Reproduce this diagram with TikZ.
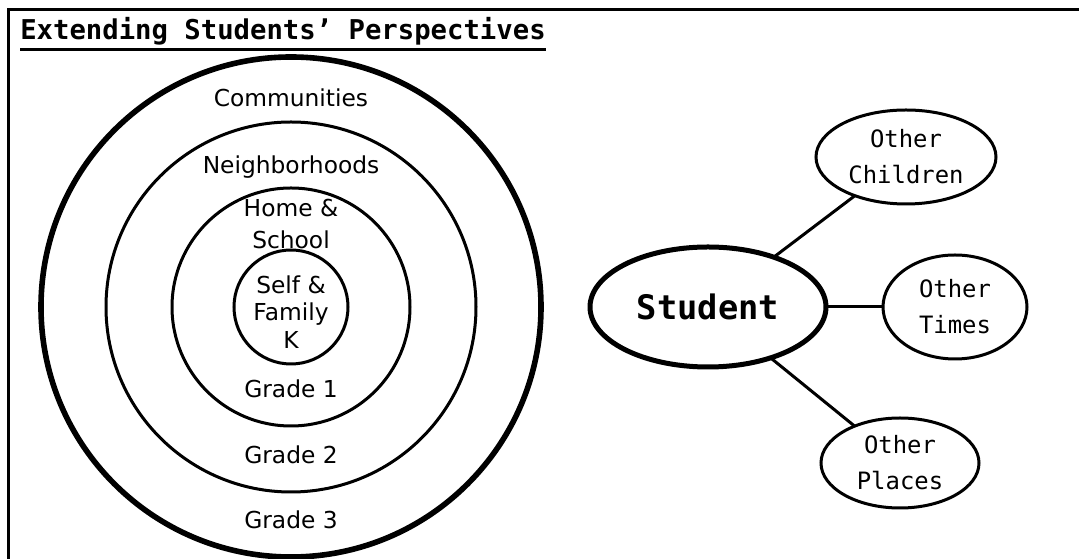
\documentclass[tikz,border=0pt]{standalone}
\usepackage{fontspec}
\usepackage{tikz}
\usetikzlibrary{positioning, shapes.geometric}
\newfontfamily\monofont{DejaVu Sans Mono}
\newfontfamily\ringfont{DejaVu Sans}
\tikzset{
  rule/.style={line width=0.075cm},
  heading/.style={font=\monofont\bfseries\fontsize{19.4}{23}\selectfont, inner sep=0pt},
  ring/.style={circle, draw, line width=0.075cm, inner sep=0pt, outer sep=0pt},
  ringlbl/.style={font=\ringfont\fontsize{16.6}{22.8}\selectfont, inner sep=0pt,
                  align=center},
  hub/.style={ellipse, draw, line width=0.125cm, inner sep=0pt, outer sep=0pt,
              font=\monofont\bfseries\fontsize{24}{28}\selectfont},
  leaf/.style={ellipse, draw, line width=0.075cm, inner sep=0pt, outer sep=0pt,
               align=center, font=\monofont\fontsize{17}{25.6}\selectfont},
  link/.style={line width=0.075cm},
}
\begin{document}
\begin{tikzpicture}
  \useasboundingbox (0,0) rectangle (26.975,13.975);
  % frame: left and top edge only
  \draw[rule] (0.2125,0) |- (26.975,13.725);
  \node[heading, anchor=base west] (title) at (0.5,12.975)
    {Extending Students’ Perspectives};
  \draw[rule] ([yshift=-0.25cm]title.base west) -- ([yshift=-0.25cm]title.base east);

  % nested rings, outermost first
  \coordinate (c) at (7.275,6.3);
  \node[ring, line width=0.14cm, minimum size=12.5cm] (grade3) at (c) {};
  \node[ring, minimum size=9.25cm] (grade2) at (c) {};
  \node[ring, minimum size=5.95cm] (grade1) at (c) {};
  \node[ring, minimum size=2.85cm] (kinder) at (c) {};

  \node[ringlbl, anchor=base] (communities) at ([yshift=-1.2375cm]grade3.north)
    {Communities};
  \node[ringlbl, anchor=base] (neighborhoods) at ([yshift=-1.3cm]grade2.north)
    {Neighborhoods};
  \node[ringlbl] (homeschool) at ([yshift=-0.9cm]grade1.north) {Home \&\\School};
  \node[ringlbl, font=\ringfont\fontsize{16.6}{19.6}\selectfont] (selffamily)
    at ([yshift=-0.125cm]kinder.center) {Self \&\\Family\\K};
  \foreach \g in {1,2,3}
    \node[ringlbl, anchor=base] (lbl\g) at ([yshift=0.7cm]grade\g.south) {Grade \g};

  % student and the three directions
  \node[hub, minimum width=5.9cm, minimum height=3cm] (student) at (17.7,6.3) {Student};
  \node[leaf, minimum width=3.6cm, minimum height=2.6cm, right=1.425cm of student]
    (times) {Other\\Times};
  \node[leaf, minimum width=4.5cm, minimum height=2.35cm] (children)
    at ([shift={(4.95,3.75)}]student) {Other\\Children};
  \node[leaf, minimum width=3.95cm, minimum height=2.25cm] (places)
    at ([shift={(4.8,-3.9)}]student) {Other\\Places};
  \foreach \n in {children, times, places}
    \draw[link] (student) -- (\n);
\end{tikzpicture}
\end{document}
